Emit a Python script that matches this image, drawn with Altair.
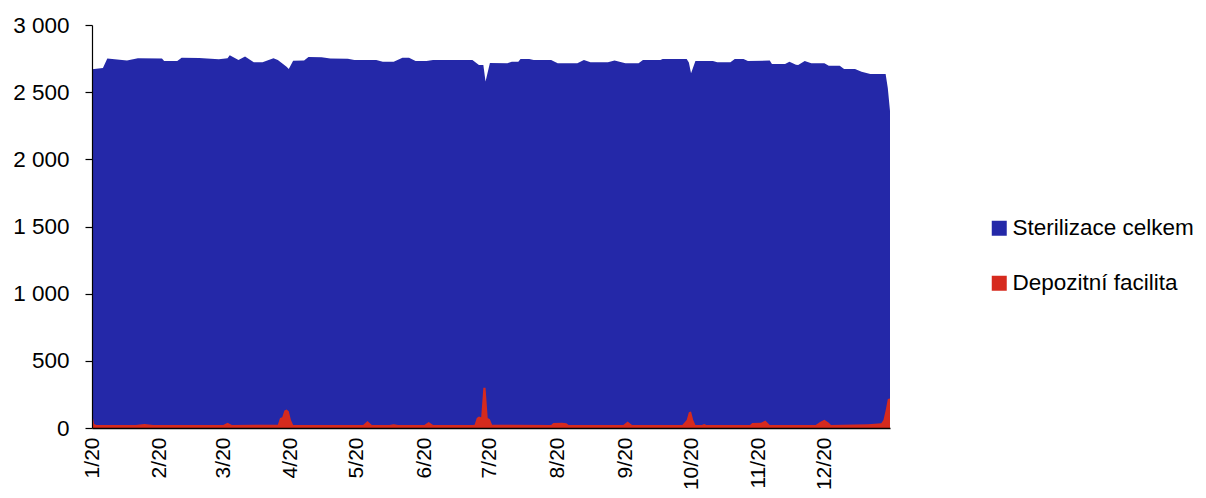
import altair as alt
import pandas as pd

# ---- data ----
series_names = ["Sterilizace celkem", "Depozitní facilita"]
series_colors = ["#2428A8", "#D62A1E"]

# day index from 1 Jan 2020, value in mld. Kč
blue_days = [0, 5, 7, 16, 21, 32, 33, 39, 41, 49, 58, 62, 63, 67, 70, 74, 78, 83, 85, 89,
             90, 92, 97, 99, 105, 109, 117, 120, 130, 133, 138, 142, 145, 148, 153, 156,
             174, 177, 179, 180, 182, 190, 192, 195, 196, 200, 202, 210, 213, 222, 225,
             228, 236, 239, 244, 250, 252, 260, 261, 272, 273, 274, 276, 284, 286, 292,
             294, 298, 300, 310, 311, 317, 319, 322, 323, 326, 329, 335, 337, 342, 344,
             349, 352, 356, 363, 364, 365]
blue_vals = [2670, 2680, 2750, 2735, 2752, 2750, 2732, 2732, 2757, 2755, 2745, 2752, 2775,
             2740, 2765, 2722, 2722, 2752, 2740, 2690, 2672, 2733, 2735, 2762, 2760, 2750,
             2748, 2740, 2740, 2727, 2727, 2757, 2757, 2732, 2732, 2740, 2740, 2702, 2702,
             2580, 2717, 2715, 2727, 2727, 2747, 2747, 2740, 2740, 2715, 2715, 2740, 2722,
             2722, 2735, 2715, 2715, 2740, 2740, 2747, 2747, 2720, 2640, 2732, 2732, 2722,
             2722, 2747, 2747, 2732, 2735, 2710, 2710, 2727, 2705, 2702, 2732, 2715, 2715,
             2697, 2697, 2672, 2672, 2652, 2635, 2635, 2530, 2360]

red_days = [0, 1, 2, 20, 24, 28, 60, 62, 64, 85, 86, 87, 88, 89, 90, 91, 92, 124, 126,
            128, 136, 138, 140, 152, 154, 156, 174, 175, 176, 177, 178, 179, 180, 181,
            182, 183, 210, 211, 215, 217, 218, 243, 245, 247, 270, 272, 273, 274, 275,
            276, 279, 280, 281, 301, 302, 306, 308, 309, 310, 331, 333, 335, 337, 338,
            355, 358, 361, 362, 363, 364, 365]
red_vals = [110, 30, 22, 22, 30, 22, 22, 40, 22, 25, 75, 80, 130, 138, 125, 60, 22, 22,
            52, 22, 22, 28, 22, 22, 45, 22, 22, 25, 75, 85, 80, 300, 300, 75, 65, 25,
            22, 38, 40, 35, 22, 22, 48, 22, 22, 60, 118, 122, 60, 22, 22, 30, 22, 22,
            38, 40, 55, 40, 22, 22, 45, 62, 40, 22, 28, 32, 35, 60, 130, 215, 220]

start = pd.Timestamp("2020-01-01")
df_blue = pd.DataFrame({
    "date": start + pd.to_timedelta(blue_days, unit="D"),
    "value": blue_vals,
    "series": series_names[0],
})
df_red = pd.DataFrame({
    "date": start + pd.to_timedelta(red_days, unit="D"),
    "value": red_vals,
    "series": series_names[1],
})

month_ticks = [alt.DateTime(year=2020, month=m, date=1) for m in range(1, 13)]
y_ticks = [0, 500, 1000, 1500, 2000, 2500, 3000]

FONT = "Liberation Sans"

x_enc = alt.X(
    "date:T",
    scale=alt.Scale(domain=[alt.DateTime(year=2020, month=1, date=1),
                            alt.DateTime(year=2020, month=12, date=31)], nice=False),
    axis=alt.Axis(values=month_ticks, format="%-m/%y", labelAngle=270, ticks=False,
                  labelPadding=9, labelFontSize=21, labelColor="#000000",
                  domainColor="#000000", domainWidth=1.5, grid=False, title=None,
                  zindex=1, labelOverlap=False, labelBound=False, labelFlush=False),
    title=None,
)
y_enc = alt.Y(
    "value:Q",
    scale=alt.Scale(domain=[0, 3000], nice=False),
    axis=alt.Axis(values=y_ticks, labelExpr="replace(format(datum.value, ','), ',', ' ')",
                  tickSize=7, tickColor="#000000", tickWidth=1.2, labelPadding=16,
                  labelFontSize=22.5, labelColor="#000000", domainColor="#000000",
                  domainWidth=1.2, grid=False, title=None, zindex=1),
    title=None,
)
color_enc = alt.Color(
    "series:N",
    scale=alt.Scale(domain=series_names, range=series_colors),
    legend=alt.Legend(orient="none", legendX=896, legendY=192, title=None,
                      symbolType="square", symbolSize=225, symbolStrokeWidth=0,
                      labelFontSize=22.5, labelColor="#000000", rowPadding=32,
                      labelOffset=2, padding=0, labelLimit=400),
)

blue = alt.Chart(df_blue).mark_area(interpolate="linear", opacity=1).encode(
    x=x_enc, y=y_enc, color=color_enc)
red = alt.Chart(df_red).mark_area(interpolate="linear", opacity=1).encode(
    x=x_enc, y=y_enc, color=color_enc)

chart = alt.layer(blue, red).properties(
    width=798,
    height=403,
    autosize=alt.AutoSizeParams(type="none"),
    padding={"left": 84, "top": 17, "right": 308, "bottom": 62},
).configure(font=FONT).configure_view(stroke=None)

chart.save("out.html", embed_options={"renderer": "svg", "actions": False})
